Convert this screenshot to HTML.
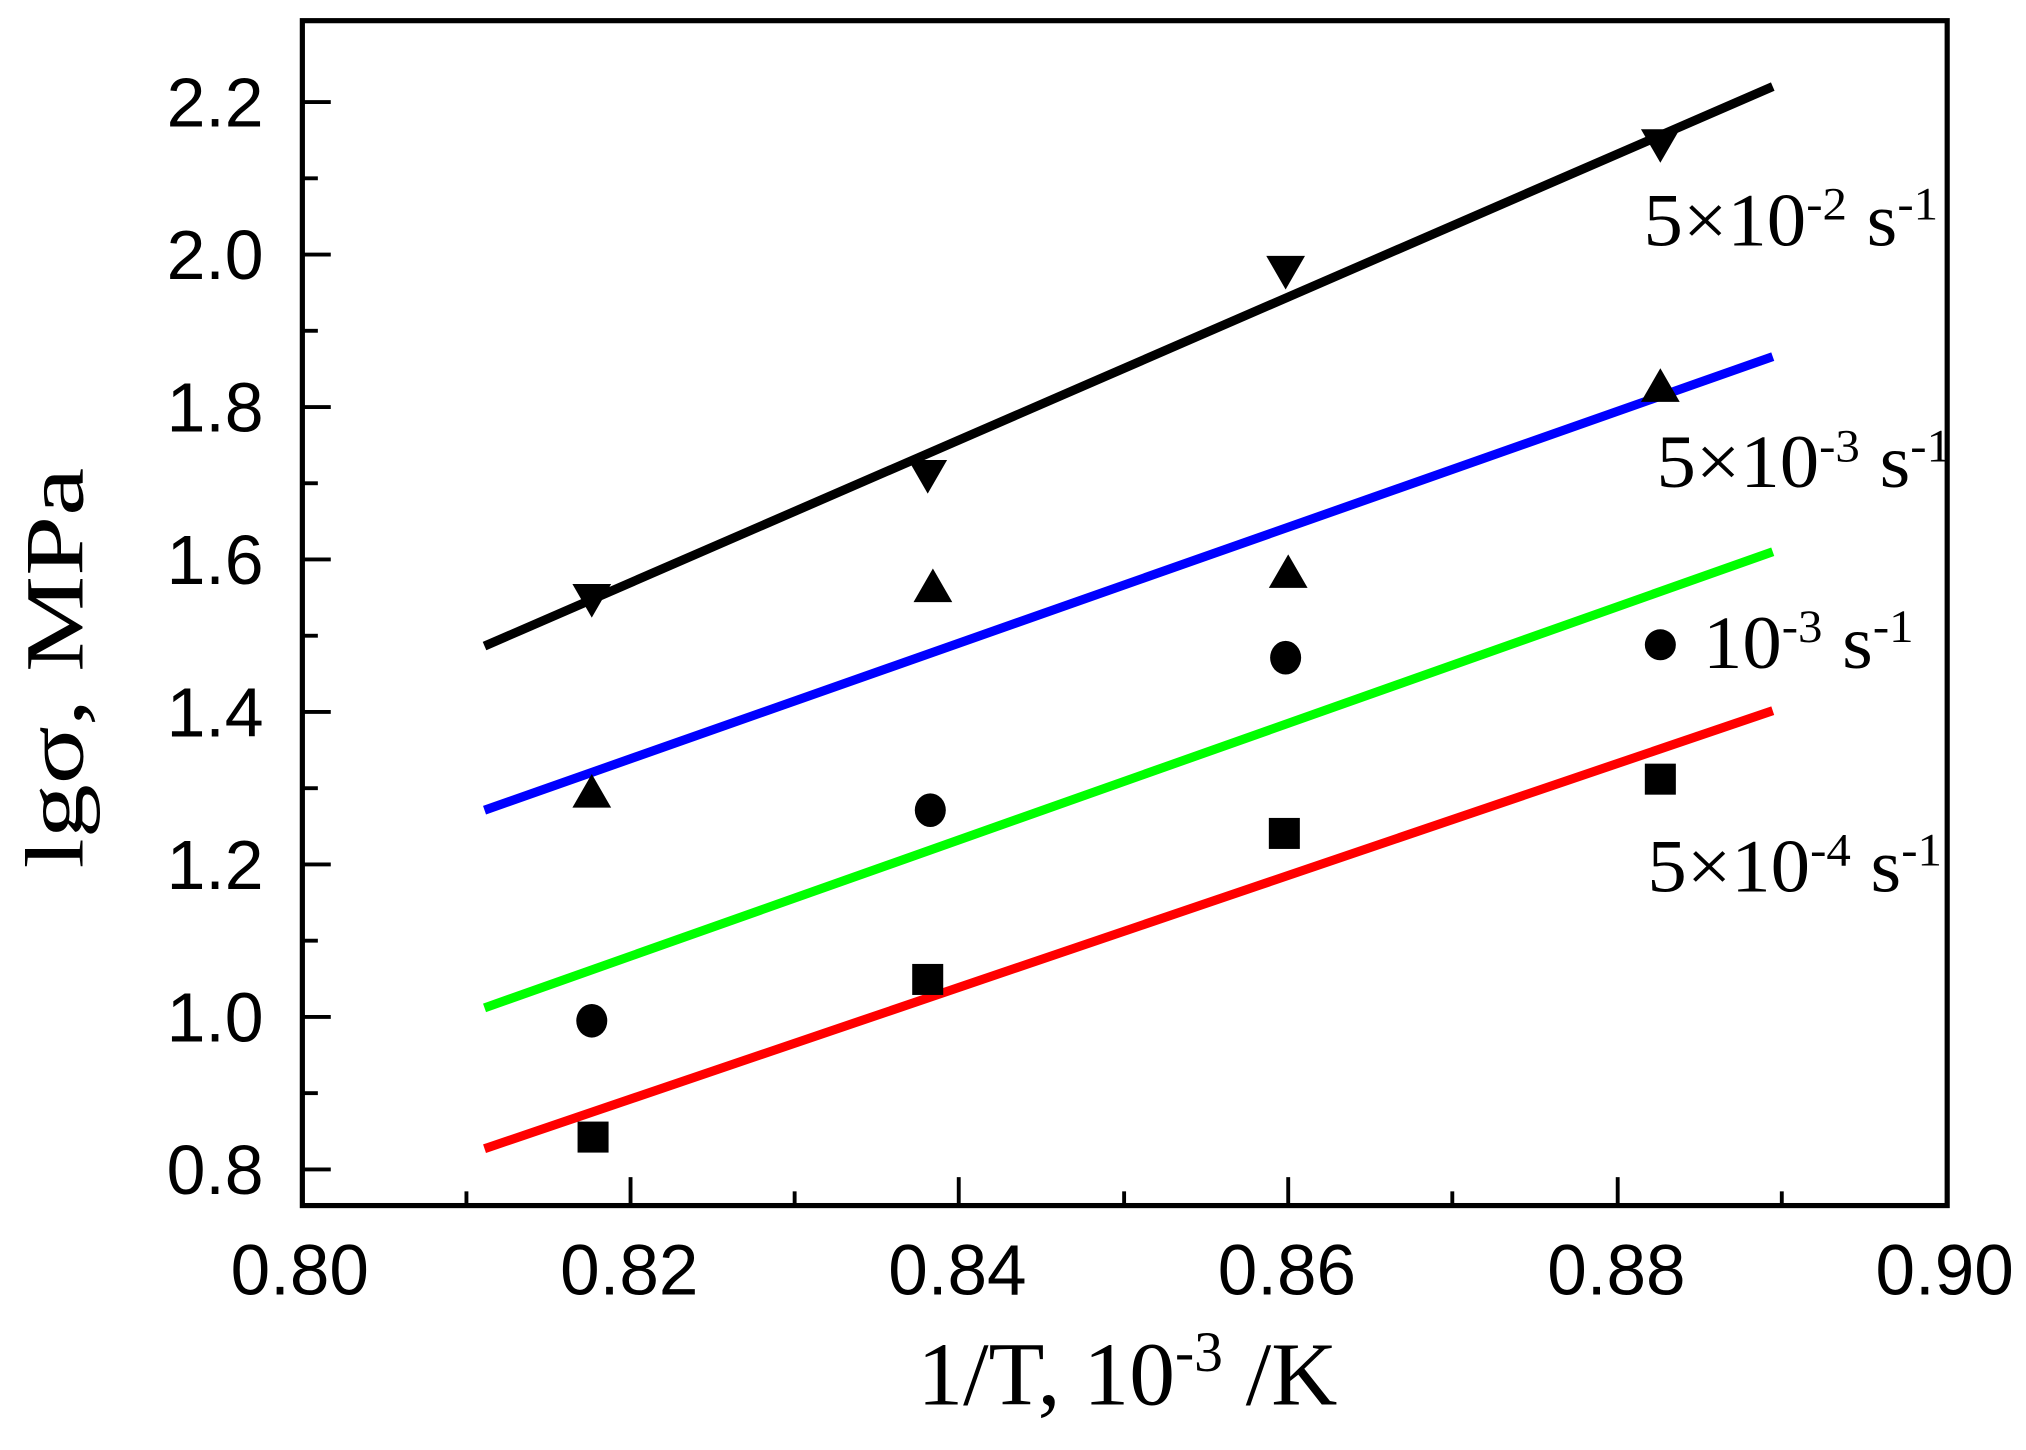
<!DOCTYPE html>
<html><head><style>html,body{margin:0;padding:0;background:#fff;overflow:hidden}</style></head>
<body>
<svg width="2026" height="1445" viewBox="0 0 1568 1118.3" preserveAspectRatio="none" xmlns="http://www.w3.org/2000/svg">
<rect width="1568" height="1119" fill="#fff"/>
<rect x="234" y="16" width="1273" height="917" fill="none" stroke="#000" stroke-width="4"/>
<g stroke="#000" stroke-width="3">
<line x1="234" y1="79" x2="256" y2="79"/><line x1="234" y1="138" x2="246" y2="138"/>
<line x1="234" y1="197" x2="256" y2="197"/><line x1="234" y1="256" x2="246" y2="256"/>
<line x1="234" y1="315" x2="256" y2="315"/><line x1="234" y1="374" x2="246" y2="374"/>
<line x1="234" y1="433" x2="256" y2="433"/><line x1="234" y1="492" x2="246" y2="492"/>
<line x1="234" y1="551" x2="256" y2="551"/><line x1="234" y1="610" x2="246" y2="610"/>
<line x1="234" y1="669" x2="256" y2="669"/><line x1="234" y1="728" x2="246" y2="728"/>
<line x1="234" y1="787" x2="256" y2="787"/><line x1="234" y1="846" x2="246" y2="846"/>
<line x1="234" y1="905" x2="256" y2="905"/>
<line x1="361" y1="933" x2="361" y2="922"/><line x1="488" y1="933" x2="488" y2="911"/>
<line x1="615" y1="933" x2="615" y2="922"/><line x1="742" y1="933" x2="742" y2="911"/>
<line x1="870" y1="933" x2="870" y2="922"/><line x1="997" y1="933" x2="997" y2="911"/>
<line x1="1124" y1="933" x2="1124" y2="922"/><line x1="1252" y1="933" x2="1252" y2="911"/>
<line x1="1379" y1="933" x2="1379" y2="922"/>
</g>
<g font-family="Liberation Sans, sans-serif" font-size="54" text-anchor="end">
<text x="204" y="98">2.2</text><text x="204" y="216">2.0</text><text x="204" y="334">1.8</text>
<text x="204" y="452">1.6</text><text x="204" y="570">1.4</text><text x="204" y="688">1.2</text>
<text x="204" y="806">1.0</text><text x="204" y="924">0.8</text>
</g>
<g font-family="Liberation Sans, sans-serif" font-size="55" text-anchor="middle">
<text x="232" y="1002">0.80</text><text x="487" y="1002">0.82</text><text x="741" y="1002">0.84</text>
<text x="996" y="1002">0.86</text><text x="1251" y="1002">0.88</text><text x="1505" y="1002">0.90</text>
</g>
<g stroke-width="7" stroke-linecap="butt">
<line x1="375" y1="500" x2="1372" y2="67" stroke="#000"/>
<line x1="375" y1="627" x2="1372" y2="276" stroke="#0000ff"/>
<line x1="375" y1="780" x2="1372" y2="427" stroke="#00ff00"/>
<line x1="375" y1="889" x2="1372" y2="550" stroke="#ff0000"/>
</g>
<g fill="#000">
<polygon points="443,452 473,452 458,478"/><polygon points="703,356 733,356 718,382"/>
<polygon points="980,198 1010,198 995,224"/><polygon points="1270,100 1300,100 1285,126"/>
<polygon points="443,625 473,625 458,599"/><polygon points="707,466 737,466 722,440"/>
<polygon points="982,455 1012,455 997,429"/><polygon points="1270,311 1300,311 1285,285"/>
<ellipse cx="458" cy="790" rx="12" ry="13"/><ellipse cx="720" cy="627" rx="12" ry="13"/>
<ellipse cx="995" cy="509" rx="12" ry="13"/><ellipse cx="1285" cy="499" rx="12" ry="12"/>
<rect x="447" y="868" width="24" height="24"/><rect x="706" y="746" width="24" height="24"/>
<rect x="982" y="633" width="24" height="24"/><rect x="1273" y="591" width="24" height="24"/>
</g>
<g font-family="Liberation Serif, serif" font-size="58">
<text x="1272" y="190" textLength="228" lengthAdjust="spacingAndGlyphs">5×10<tspan font-size="36" dy="-20">-2</tspan><tspan dy="20"> s</tspan><tspan font-size="36" dy="-20">-1</tspan></text>
<text x="1282" y="377" textLength="228" lengthAdjust="spacingAndGlyphs">5×10<tspan font-size="36" dy="-20">-3</tspan><tspan dy="20"> s</tspan><tspan font-size="36" dy="-20">-1</tspan></text>
<text x="1318" y="517" textLength="163" lengthAdjust="spacingAndGlyphs">10<tspan font-size="36" dy="-20">-3</tspan><tspan dy="20"> s</tspan><tspan font-size="36" dy="-20">-1</tspan></text>
<text x="1275" y="690" textLength="228" lengthAdjust="spacingAndGlyphs">5×10<tspan font-size="36" dy="-20">-4</tspan><tspan dy="20"> s</tspan><tspan font-size="36" dy="-20">-1</tspan></text>
<text x="710" y="1087" font-size="70" textLength="325" lengthAdjust="spacingAndGlyphs">1/T, 10<tspan font-size="44" dy="-26">-3</tspan><tspan dy="26"> /K</tspan></text>
<text transform="translate(64,672) rotate(-90)" font-size="64" textLength="310" lengthAdjust="spacingAndGlyphs">lgσ, MPa</text>
</g>
</svg>
</body></html>
